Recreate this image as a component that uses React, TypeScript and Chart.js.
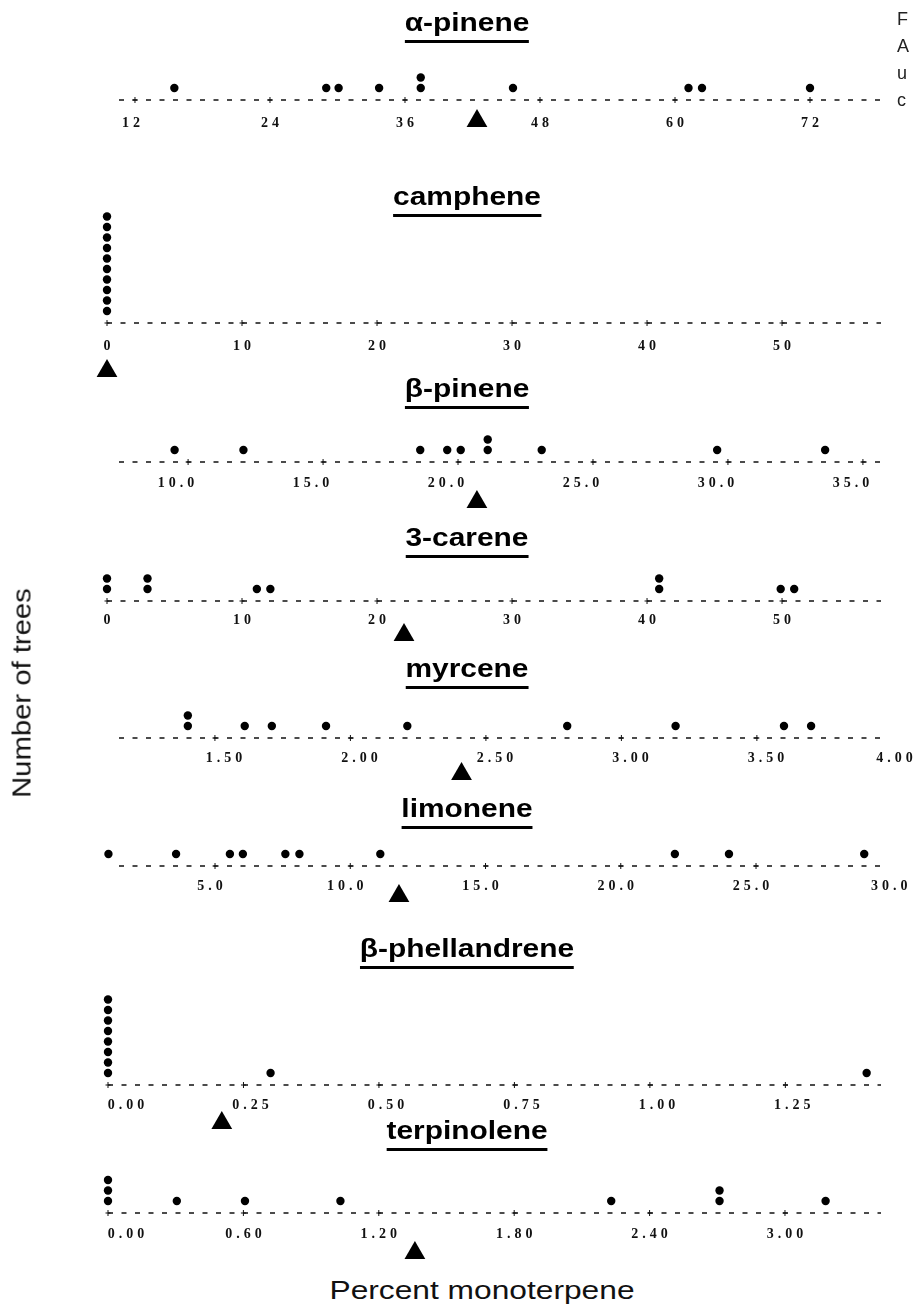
import { useEffect, useRef } from "react";
import { Chart, registerables } from "chart.js";
Chart.register(...registerables);

// ---------- DATA ----------
const compounds = ["α-pinene", "camphene", "β-pinene", "3-carene", "myrcene", "limonene", "β-phellandrene", "terpinolene"];

const alphaPinene = [15.5, 29.0, 30.1, 33.7, 37.4, 37.4, 45.6, 61.2, 62.4, 72.0];
const camphene = [0, 0, 0, 0, 0, 0, 0, 0, 0, 0];
const betaPinene = [9.5, 12.05, 18.6, 19.6, 20.1, 21.1, 21.1, 23.1, 29.6, 33.6];
const carene3 = [0, 0, 3.0, 3.0, 11.1, 12.1, 40.9, 40.9, 49.9, 50.9];
const myrcene = [1.4, 1.4, 1.61, 1.71, 1.91, 2.21, 2.8, 3.2, 3.6, 3.7];
const limonene = [1.06, 3.56, 5.55, 6.03, 7.6, 8.12, 11.11, 22.0, 24.0, 29.0];
const betaPhellandrene = [0, 0, 0, 0, 0, 0, 0, 0, 0.3, 1.4];
const terpinolene = [0, 0, 0, 0.305, 0.607, 1.03, 2.23, 2.71, 2.71, 3.18];

const means = [42.4, 0, 20.7, 22.0, 2.41, 11.8, 0.21, 1.36];

const ticksAlpha = [12, 24, 36, 48, 60, 72];
const ticksCamphene = [0, 10, 20, 30, 40, 50];
const ticksBetaPinene = [10, 15, 20, 25, 30, 35];
const ticksCarene = [0, 10, 20, 30, 40, 50];
const ticksMyrcene = [1.5, 2.0, 2.5, 3.0, 3.5, 4.0];
const ticksLimonene = [5, 10, 15, 20, 25, 30];
const ticksPhell = [0, 0.25, 0.5, 0.75, 1.0, 1.25];
const ticksTerp = [0, 0.6, 1.2, 1.8, 2.4, 3.0];

const labelsAlpha = ["12", "24", "36", "48", "60", "72"];
const labelsCamphene = ["0", "10", "20", "30", "40", "50"];
const labelsBetaPinene = ["10.0", "15.0", "20.0", "25.0", "30.0", "35.0"];
const labelsCarene = ["0", "10", "20", "30", "40", "50"];
const labelsMyrcene = ["1.50", "2.00", "2.50", "3.00", "3.50", "4.00"];
const labelsLimonene = ["5.0", "10.0", "15.0", "20.0", "25.0", "30.0"];
const labelsPhell = ["0.00", "0.25", "0.50", "0.75", "1.00", "1.25"];
const labelsTerp = ["0.00", "0.60", "1.20", "1.80", "2.40", "3.00"];

// axis extents (value at the start and end of each dashed axis)
const rangeAlpha = [10.58, 78.31];
const rangeCamphene = [0, 57.33];
const rangeBetaPinene = [7.44, 35.67];
const rangeCarene = [0, 57.33];
const rangeMyrcene = [1.146, 3.958];
const rangeLimonene = [1.45, 29.62];
const rangePhell = [0, 1.4265];
const rangeTerp = [0, 3.4255];

const yTitle = "Number of trees";
const xTitle = "Percent monoterpene";
const edgeLetters = ["F", "A", "u", "c"];

const seriesList = [alphaPinene, camphene, betaPinene, carene3, myrcene, limonene, betaPhellandrene, terpinolene];
const tickList = [ticksAlpha, ticksCamphene, ticksBetaPinene, ticksCarene, ticksMyrcene, ticksLimonene, ticksPhell, ticksTerp];
const labelList = [labelsAlpha, labelsCamphene, labelsBetaPinene, labelsCarene, labelsMyrcene, labelsLimonene, labelsPhell, labelsTerp];
const rangeList = [rangeAlpha, rangeCamphene, rangeBetaPinene, rangeCarene, rangeMyrcene, rangeLimonene, rangePhell, rangeTerp];

// ---------- LAYOUT / STYLE ----------
const W = 913;
const AREA_LEFT = 95;
const AXIS_RIGHT = 881;
const CANVAS_H = 180;
const AXIS_IN_CANVAS = 120;
const STEP = 10.5; // px per stacked dot
const FIRST = 12; // px from axis to first dot
const TRI_R = 12;

const layout = [
  { axisY: 100, titleY: 22, left: 119, labelDy: 23, triDy: 18, labelDx: 0, firstDx: -4, lastDx: 0 },
  { axisY: 323, titleY: 196, left: 107, labelDy: 23, triDy: 45, labelDx: 0, firstDx: 0, lastDx: 0 },
  { axisY: 462, titleY: 388, left: 119, labelDy: 21, triDy: 37, labelDx: -12, firstDx: -12, lastDx: -12 },
  { axisY: 601, titleY: 537, left: 107, labelDy: 19, triDy: 31, labelDx: 0, firstDx: 0, lastDx: 0 },
  { axisY: 738, titleY: 668, left: 119, labelDy: 20, triDy: 33, labelDx: 9, firstDx: 9, lastDx: 2 },
  { axisY: 866, titleY: 808, left: 119, labelDy: 20, triDy: 27, labelDx: -5, firstDx: -5, lastDx: -2 },
  { axisY: 1085, titleY: 948, left: 108, labelDy: 20, triDy: 35, labelDx: 7, firstDx: 18, lastDx: 7 },
  { axisY: 1213, titleY: 1130, left: 108, labelDy: 21, triDy: 37, labelDx: 0, firstDx: 18, lastDx: 0 },
];

const off = (FIRST - STEP) / STEP; // level value offset
const axisValue = -off;

function stackDots(values: number[]) {
  const seen = new Map<number, number>();
  return values.map((v) => {
    const k = (seen.get(v) ?? 0) + 1;
    seen.set(v, k);
    return { x: v, y: k };
  });
}

function Panel({ idx }: { idx: number }) {
  const ref = useRef<HTMLCanvasElement | null>(null);
  const L = layout[idx];
  useEffect(() => {
    const canvas = ref.current!;
    const ticks = tickList[idx];
    const labels = labelList[idx];
    const [min, max] = rangeList[idx];
    const pxPerUnit = (AXIS_RIGHT - L.left) / (max - min);
    const scaleMin = min - (L.left - AREA_LEFT) / pxPerUnit;
    const yMax = (AXIS_IN_CANVAS - (FIRST - STEP)) / STEP;
    const yMin = -(CANVAS_H - AXIS_IN_CANVAS + (FIRST - STEP)) / STEP;
    const triValue = axisValue - (L.triDy + TRI_R / 4) / STEP;

    const decor = {
      id: "axisDecor" + idx,
      beforeDatasetsDraw(chart: any) {
        const ctx = chart.ctx as CanvasRenderingContext2D;
        const xs = chart.scales.x;
        const ys = chart.scales.y;
        const y = ys.getPixelForValue(axisValue);
        const x0 = xs.getPixelForValue(min);
        const x1 = xs.getPixelForValue(max);
        ctx.save();
        ctx.strokeStyle = "#111";
        ctx.lineWidth = 1.6;
        ctx.setLineDash([5, 8.5]);
        ctx.beginPath();
        ctx.moveTo(x0, y);
        ctx.lineTo(x1, y);
        ctx.stroke();
        ctx.setLineDash([]);
        ctx.lineWidth = 1;
        ticks.forEach((t) => {
          if (t < min - 1e-9 || t > max + 1e-9) return;
          const px = xs.getPixelForValue(t);
          ctx.beginPath();
          ctx.moveTo(px, y - 3);
          ctx.lineTo(px, y + 3);
          ctx.moveTo(px - 2.5, y);
          ctx.lineTo(px + 2.5, y);
          ctx.stroke();
        });
        ctx.fillStyle = "#111";
        ctx.font = 'bold 14px "Liberation Serif"';
        (ctx as any).letterSpacing = "4px";
        ctx.textAlign = "center";
        ctx.textBaseline = "middle";
        ticks.forEach((t, i) => {
          const dx = i === 0 ? L.firstDx : i === ticks.length - 1 ? L.lastDx : L.labelDx;
          const px = xs.getPixelForValue(t) + dx;
          ctx.fillText(labels[i], px + 2, y + L.labelDy);
        });
        ctx.restore();
      },
    };

    const chart = new Chart(canvas, {
      type: "scatter",
      data: {
        datasets: [
          {
            data: stackDots(seriesList[idx]),
            pointStyle: "circle",
            pointRadius: 4.2,
            backgroundColor: "#000",
            borderColor: "#000",
            borderWidth: 0,
            clip: false as any,
          },
          {
            data: [{ x: means[idx], y: triValue }],
            pointStyle: "triangle",
            pointRadius: TRI_R,
            backgroundColor: "#000",
            borderColor: "#000",
            borderWidth: 0,
            clip: false as any,
          },
        ],
      },
      options: {
        animation: false,
        responsive: false,
        maintainAspectRatio: false,
        events: [],
        layout: {
          autoPadding: false,
          padding: { left: AREA_LEFT, right: W - AXIS_RIGHT, top: 0, bottom: 0 },
        },
        scales: {
          x: { type: "linear", display: false, min: scaleMin, max },
          y: { type: "linear", display: false, min: yMin, max: yMax },
        },
        plugins: { legend: { display: false }, tooltip: { enabled: false } },
      },
      plugins: [decor],
    });
    return () => chart.destroy();
  }, [idx]);

  return (
    <>
      <canvas
        ref={ref}
        width={W}
        height={CANVAS_H}
        style={{ position: "absolute", left: 0, top: L.axisY - AXIS_IN_CANVAS, width: W, height: CANVAS_H }}
      />
      <div
        style={{
          position: "absolute",
          left: 467,
          top: L.titleY - 13,
          transform: "translateX(-50%) scaleX(1.15)",
          font: 'bold 26px "Liberation Sans", Arial, sans-serif',
          lineHeight: "26px",
          paddingBottom: 5,
          borderBottom: "3px solid #000",
          whiteSpace: "nowrap",
          color: "#000",
        }}
      >
        {compounds[idx]}
      </div>
    </>
  );
}

export default function App() {
  return (
    <div
      style={{
        position: "absolute",
        left: 0,
        top: 0,
        width: W,
        height: 1315,
        overflow: "hidden",
        background: "#fff",
      }}
    >
      {layout.map((_, i) => (
        <Panel key={i} idx={i} />
      ))}
      <div
        style={{
          position: "absolute",
          left: 22,
          top: 693,
          transform: "translate(-50%, -50%) rotate(-90deg) scaleX(1.17)",
          font: '25px "Liberation Sans", Arial, sans-serif',
          whiteSpace: "nowrap",
          color: "#111",
        }}
      >
        {yTitle}
      </div>
      <div
        style={{
          position: "absolute",
          left: 482,
          top: 1290,
          transform: "translate(-50%, -50%) scaleX(1.22)",
          font: '26px "Liberation Sans", Arial, sans-serif',
          whiteSpace: "nowrap",
          color: "#111",
        }}
      >
        {xTitle}
      </div>
      <div
        style={{
          position: "absolute",
          left: 897,
          top: 6,
          width: 16,
          overflow: "hidden",
          font: '18px "Liberation Sans", Arial, sans-serif',
          lineHeight: "27px",
          color: "#222",
        }}
      >
        {edgeLetters.map((l, i) => (
          <div key={i}>{l}</div>
        ))}
      </div>
    </div>
  );
}
